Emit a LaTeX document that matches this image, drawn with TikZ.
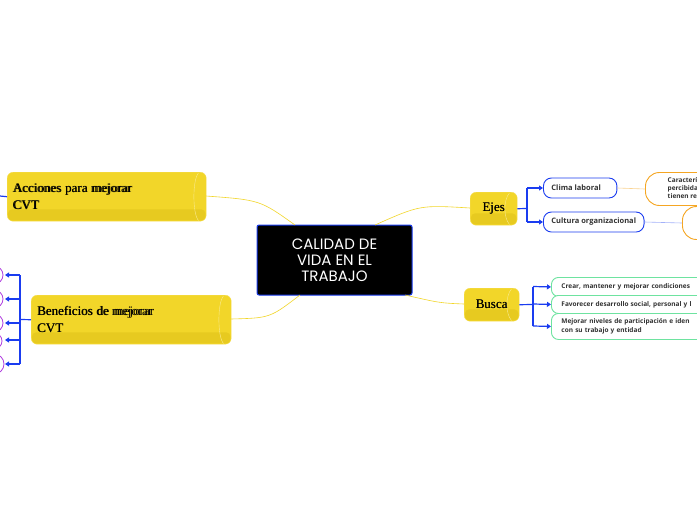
\documentclass[tikz,border=0pt]{standalone}
\usepackage{fontspec}
\setmainfont{Liberation Serif}
\newfontfamily\ctrfont{Poppins}
\newfontfamily\smfont{Open Sans}
\usetikzlibrary{arrows.meta}
\definecolor{ylw}{HTML}{F2D629}
\definecolor{ylwd}{HTML}{E0C21A}
\definecolor{bl}{HTML}{1A3CF0}
\definecolor{gr}{HTML}{6EE3A0}
\definecolor{org}{HTML}{F5A623}
\definecolor{pur}{HTML}{B040E0}
\tikzset{
 cyl/.style={draw=ylw!80!white, fill=ylw, rounded corners=6pt, inner sep=0pt, font=\fontsize{13}{17}\selectfont, align=left},
 bluebox/.style={draw=bl, fill=white, rounded corners=8pt, line width=0.9pt, font=\smfont\bfseries\fontsize{7.5}{9}\selectfont, text=black!80, anchor=west, minimum height=20pt, inner xsep=8pt},
 grbox/.style={draw=gr, fill=white, rounded corners=7pt, line width=0.9pt, font=\smfont\bfseries\fontsize{6.5}{8.5}\selectfont, text=black!80, anchor=north west, align=left, text width=160pt, inner xsep=10pt},
 brk/.style={draw=bl, line width=1.2pt},
 arr/.style={brk, -{Triangle[length=4pt,width=5pt]}},
 yl/.style={draw=ylw, line width=0.6pt},
}
\begin{document}
\begin{tikzpicture}[x=1pt,y=-1pt]
\useasboundingbox (0,0) rectangle (697,520);
\clip (0,0) rectangle (697,520);
\fill[white] (0,0) rectangle (697,520);
% center
\node[draw=bl, fill=black, rounded corners=2pt, line width=1pt, minimum width=155pt, minimum height=70pt, align=center, text=white, font=\ctrfont\fontsize{15}{16}\selectfont] (c) at (334.5,260) {CALIDAD DE\\VIDA EN EL\\TRABAJO};
% center connectors
\draw[yl] (295,225) .. controls (260,200) .. (206,196);
\draw[yl] (300,295) .. controls (270,318) .. (231,319);
\draw[yl] (375,225) .. controls (420,205) .. (470,208);
\draw[yl] (405,295) .. controls (440,303) .. (464,304);
% yellow cylinders
\node[cyl, minimum width=199pt, minimum height=49pt, text width=190pt, anchor=north west] (acc) at (7,172) {\hspace*{1pt}Acciones para mejorar\\\hspace*{1pt}CVT};
\node[cyl, minimum width=200pt, minimum height=49pt, text width=190pt, anchor=north west] (ben) at (31,295) {\hspace*{1pt}Beneficios de mejorar\\\hspace*{1pt}CVT};
\node[cyl, minimum width=47pt, minimum height=33pt, anchor=north west, align=center] (ejes) at (470,192) {Ejes};
\node[cyl, minimum width=55pt, minimum height=33pt, anchor=north west, align=center] (bus) at (464,288) {Busca};
\foreach \n in {acc,ben,ejes,bus}{
 \fill[ylwd,opacity=0.6,rounded corners=4pt] ([xshift=1pt,yshift=1pt]\n.south west) rectangle ([xshift=-1pt,yshift=12pt]\n.south east);
 \draw[ylw!50!white] ([xshift=-8pt,yshift=-1pt]\n.north east) .. controls ([xshift=-14pt,yshift=-8pt]\n.north east) and ([xshift=-14pt,yshift=8pt]\n.south east) .. ([xshift=-8pt,yshift=1pt]\n.south east);
}
\node[font=\fontsize{13}{17}\selectfont, align=left, anchor=west] at (10,196.5) {Acciones para mejorar\\CVT};
\node[font=\fontsize{13}{17}\selectfont, align=left, anchor=west] at (34,319.5) {Beneficios de mejorar\\CVT};
\node[font=\fontsize{13}{17}\selectfont] at (ejes.center) {Ejes};
\node[font=\fontsize{13}{17}\selectfont] at (bus.center) {Busca};
% Ejes children
\node[bluebox] (clima) at (543,188) {Clima laboral\hspace*{8pt}};
\node[bluebox] (cult) at (543,222) {Cultura organizacional};
\draw[brk] (ejes.east) -- (527,208.5);
\draw[brk] (527,188) -- (527,222);
\draw[arr] (527,188) -- (clima.west);
\draw[arr] (527,222) -- (cult.west);
\node[draw=org, fill=white, rounded corners=14pt, line width=0.9pt, anchor=west, minimum height=33pt, minimum width=70pt, align=left, font=\smfont\bfseries\fontsize{6.5}{8}\selectfont, text=black!80] (o1) at (645,189) {\hspace*{8pt}Caracterís\\\hspace*{8pt}percibidas\\\hspace*{8pt}tienen rep};
\node[draw=org, fill=white, rounded corners=14pt, line width=0.9pt, anchor=west, minimum height=33pt, minimum width=50pt] (o2) at (682,223) {};
\draw[org!50, line width=0.6pt] (clima.east) -- (o1.west);
\draw[bl!40, line width=0.6pt] (cult.east) -- (o2.west);
% Busca children
\node[grbox, minimum height=19pt] (g1) at (551,277) {Crear, mantener y mejorar condiciones};
\node[grbox, minimum height=18pt] (g2) at (551,295) {Favorecer desarrollo social, personal y l};
\node[grbox, minimum height=26pt] (g3) at (551,313) {Mejorar niveles de participación e iden\\con su trabajo y entidad};
\draw[brk] (bus.east) -- (533,304.5);
\draw[brk] (533,286.5) -- (533,326);
\draw[arr] (533,286.5) -- (g1.west);
\draw[arr] (533,304) -- (g2.west);
\draw[arr] (533,326) -- (g3.west);
% left side
\draw[brk] (0,196) -- (acc.west);
\draw[brk] (ben.west) -- (20,319.5);
\draw[brk] (20,275) -- (20,364);
\foreach \y in {275,299,323,340,364}{
 \draw[arr] (20,\y) -- (5,\y);
}
\foreach \y/\r in {275/9,299/9,323/9,341/8,364/10}{
 \draw[pur, line width=0.8pt] (-6,\y) circle[radius=\r];
}
\end{tikzpicture}
\end{document}
